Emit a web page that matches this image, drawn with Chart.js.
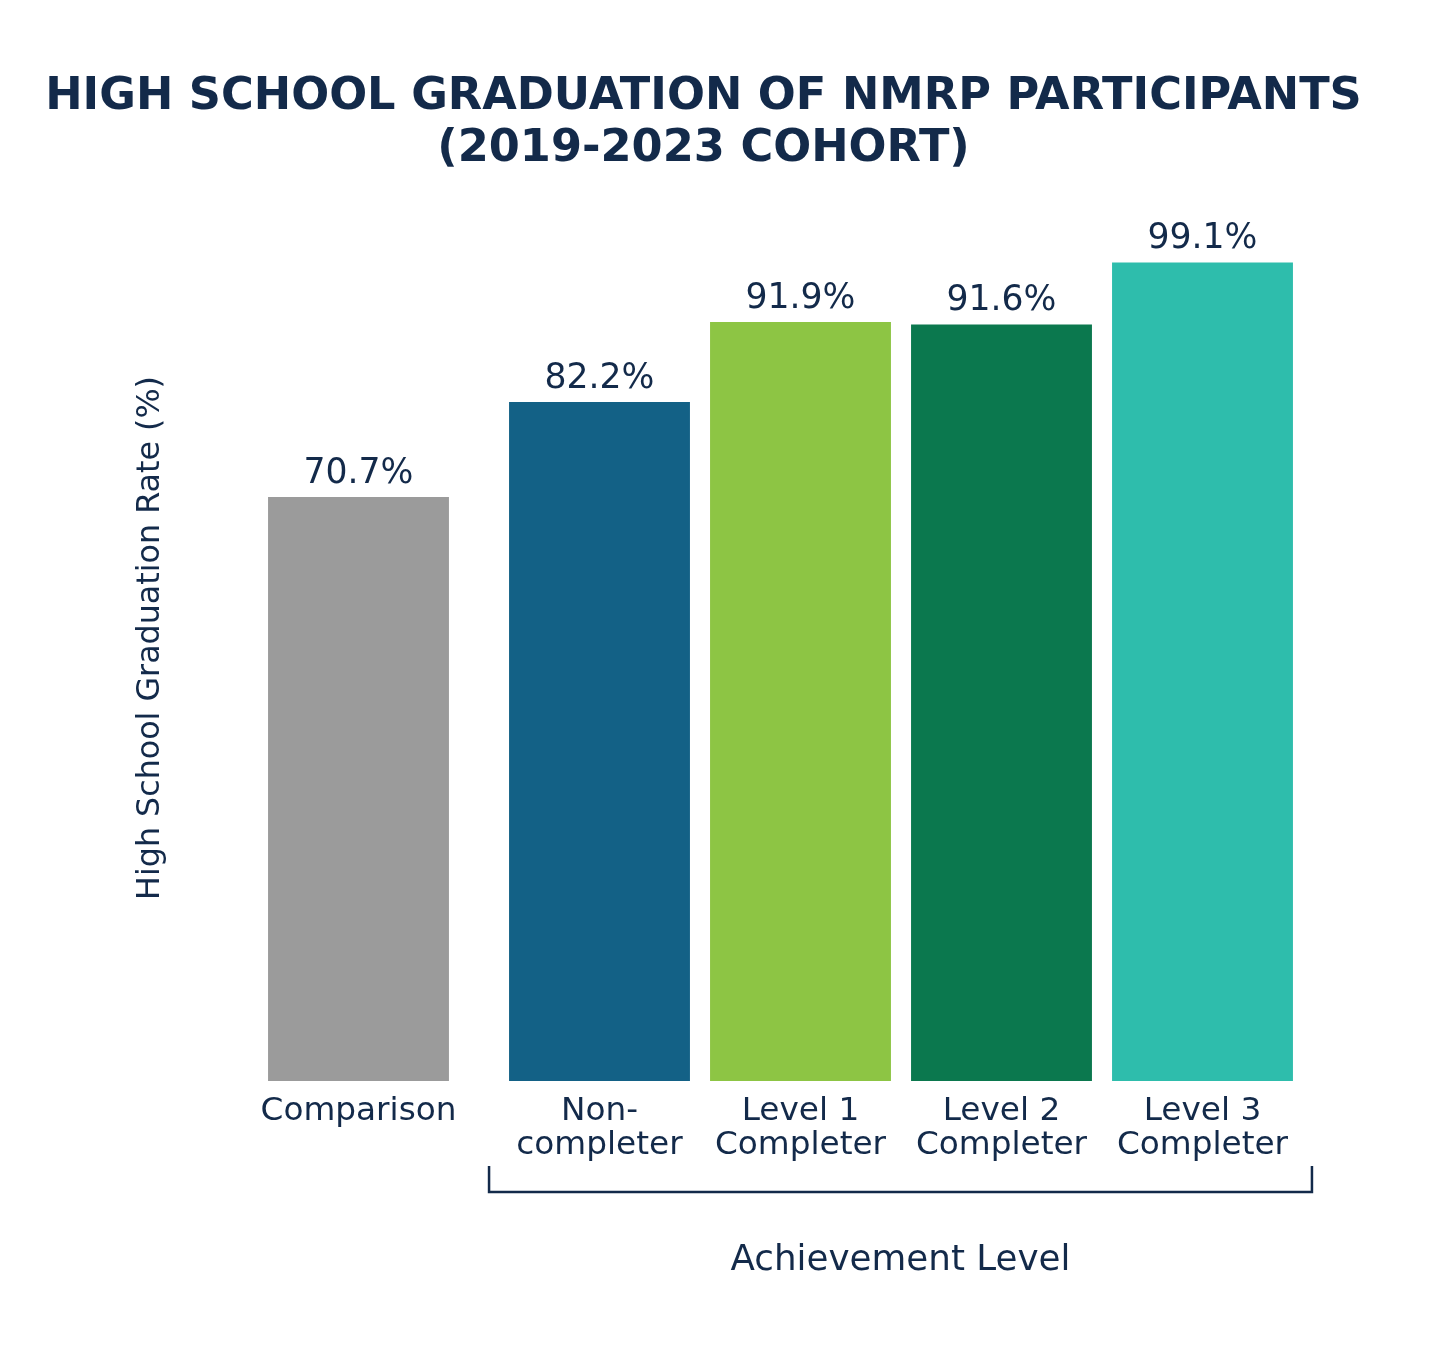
<!DOCTYPE html>
<html><head><meta charset="utf-8">
<script src="https://cdn.jsdelivr.net/npm/chart.js@4.4.1/dist/chart.umd.min.js"></script>
<style>html,body{margin:0;padding:0;background:#fff}#wrap{width:1437px;height:1351px;position:relative}canvas{display:block}</style>
</head><body><div id="wrap"><canvas id="c" width="1437" height="1351"></canvas></div>
<script>
// ---- data ----
const categories = [["Comparison"], ["Non-", "completer"], ["Level 1", "Completer"], ["Level 2", "Completer"], ["Level 3", "Completer"]];
const rates = [70.7, 82.2, 91.9, 91.6, 99.1];
const valueLabels = ["70.7%", "82.2%", "91.9%", "91.6%", "99.1%"];
const barColors = ["#9b9b9b", "#136186", "#8dc544", "#0b784e", "#2ebdac"];
const titleLines = ["HIGH SCHOOL GRADUATION OF NMRP PARTICIPANTS", "(2019-2023 COHORT)"];
const yAxisTitle = "High School Graduation Rate (%)";
const groupTitle = "Achievement Level";
const groupFirst = 1; // first category inside the achievement-level bracket

// ---- style ----
const TXT = "#132a4a";
const FAM = "'DejaVu Sans', 'Noto Sans', sans-serif";
const GROUP_GAP = 40;

function fitSize(ctx, text, weight, target) {
  ctx.font = weight + " 100px " + FAM;
  return 100 * target / ctx.measureText(text).width;
}

const shiftPlugin = {
  id: 'shift',
  afterDatasetsUpdate(chart) {
    const meta = chart.getDatasetMeta(0);
    for (let i = 0; i < groupFirst; i++) meta.data[i].x -= GROUP_GAP;
  }
};

const textPlugin = {
  id: 'texts',
  afterDraw(chart) {
    const ctx = chart.ctx;
    const meta = chart.getDatasetMeta(0);
    ctx.save();
    ctx.fillStyle = TXT;
    ctx.textAlign = 'center';
    ctx.textBaseline = 'alphabetic';
    // title
    let s = fitSize(ctx, titleLines[0], 'bold', 1317);
    ctx.font = "bold " + s + "px " + FAM;
    ctx.fillText(titleLines[0], 703.5, 109);
    ctx.fillText(titleLines[1], 703.5, 161);
    // value labels
    s = fitSize(ctx, valueLabels[0], 'normal', 110);
    ctx.font = "normal " + s + "px " + FAM;
    meta.data.forEach((b, i) => ctx.fillText(valueLabels[i], b.x, b.y - 14));
    // category labels
    s = fitSize(ctx, categories[0][0], 'normal', 196);
    ctx.font = "normal " + s + "px " + FAM;
    meta.data.forEach((b, i) => {
      categories[i].forEach((ln, j) => ctx.fillText(ln, b.x, 1120 + j * 34));
    });
    // bracket
    const first = meta.data[groupFirst], last = meta.data[meta.data.length - 1];
    const bl = first.x - first.width / 2 - 20, br = last.x + last.width / 2 + 19;
    ctx.strokeStyle = TXT; ctx.lineWidth = 2.5;
    ctx.beginPath();
    ctx.moveTo(bl, 1166); ctx.lineTo(bl, 1192); ctx.lineTo(br, 1192); ctx.lineTo(br, 1166);
    ctx.stroke();
    s = fitSize(ctx, groupTitle, 'normal', 340);
    ctx.font = "normal " + s + "px " + FAM;
    ctx.fillText(groupTitle, (bl + br) / 2, 1270);
    // y title
    s = fitSize(ctx, yAxisTitle, 'normal', 524);
    ctx.font = "normal " + s + "px " + FAM;
    ctx.translate(159, 638);
    ctx.rotate(-Math.PI / 2);
    ctx.fillText(yAxisTitle, 0, 0);
    ctx.restore();
  }
};

new Chart(document.getElementById('c'), {
  type: 'bar',
  data: {
    labels: categories,
    datasets: [{ data: rates, backgroundColor: barColors, borderWidth: 0, barPercentage: 0.9, categoryPercentage: 1, clip: false }]
  },
  options: {
    responsive: false,
    animation: false,
    devicePixelRatio: 1,
    layout: { padding: { left: 298, right: 134, top: 255, bottom: 270 } },
    plugins: { legend: { display: false }, tooltip: { enabled: false }, title: { display: false } },
    scales: {
      x: { display: false, offset: true },
      y: { display: false, min: 0, max: 100 }
    }
  },
  plugins: [shiftPlugin, textPlugin]
});
</script></body></html>
